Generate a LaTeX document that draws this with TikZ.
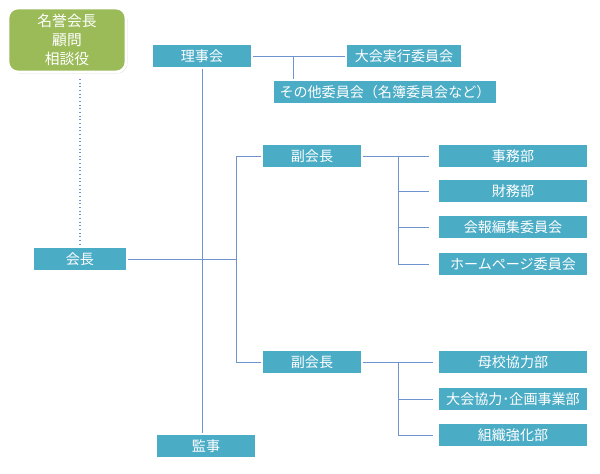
\documentclass[tikz,border=0pt]{standalone}
\usepackage{fontspec}
\setmainfont{Noto Sans CJK JP}
\usetikzlibrary{positioning,shadows}
\definecolor{boxcolor}{RGB}{75,172,198}
\definecolor{greencolor}{RGB}{155,187,89}
\definecolor{linecolor}{RGB}{110,148,205}

\begin{document}
\begin{tikzpicture}[
			x=0.025cm, y=-0.025cm,
			orgbox/.style={
				draw=white,
				line width=1.4pt,
				fill=boxcolor,
				text=white,
				minimum width=2.5cm,
				minimum height=0.6cm,
				inner sep=1pt,
				font=\fontsize{10}{12}\selectfont,
				drop shadow={opacity=0.4,shadow xshift=0.9pt,shadow yshift=-0.9pt}
			},
			widebox/.style={
				orgbox,
				minimum width=3.75cm
			},
			topbox/.style={
				orgbox,
				fill=greencolor,
				line width=2pt,
				rounded corners=7pt,
				align=center,
				minimum width=2.95cm,
				minimum height=1.6cm,
				font=\fontsize{10.5}{13.5}\selectfont
			},
			orgline/.style={
				draw=linecolor,
				line width=0.6pt
			}
		]
			\useasboundingbox (0,0) rectangle (600,474);
			
			\node[topbox] (meiyo) at (67,40) {名誉会長\\顧問\\相談役};
			
			\node[orgbox] (rijikai) at (202,56) {理事会};
			\node[orgbox,minimum width=2.9cm] (taikai) at (404,56) {大会実行委員会};
			\node[orgbox,minimum width=5.6cm] (sonota) at (385,92) {その他委員会（名簿委員会など）};
			
			\node[orgbox,minimum width=2.33cm] (kaicho) at (80,259) {会長};
			\node[orgbox] (kanji) at (206,446) {監事};
			
			\node[orgbox] (fuku1) at (312,156) {副会長};
			\node[orgbox] (fuku2) at (312,362) {副会長};
			
			\node[widebox] (jimu) at (513,156) {事務部};
			\node[widebox] (zaimu) at (513,191) {財務部};
			\node[widebox] (kaiho) at (513,227) {会報編集委員会};
			\node[widebox] (home) at (513,264) {ホームページ委員会};
			
			\node[widebox] (bokou) at (513,362) {母校協力部};
			\node[widebox] (kikaku) at (513,399) {大会協力･企画事業部};
			\node[widebox] (soshiki) at (513,435) {組織強化部};
			
			\coordinate (rbus) at (293,56);
			\coordinate (kbus) at (236,259);
			\coordinate (jbus1) at (398,156);
			\coordinate (jbus2) at (398,362);
			
			\draw[orgline] (rijikai.east) -- (taikai.west);
			\draw[orgline] (rbus) -- (rbus |- sonota.north);
			\draw[orgline] (rijikai.south) -- (rijikai.south |- kanji.north);
			\draw[orgline,dotted,line width=0.8pt] ([yshift=-4pt]kaicho.north |- meiyo.south) -- (kaicho.north);
			
			\draw[orgline] (kaicho.east) -- (kbus);
			\draw[orgline] (kbus |- fuku1) -- (kbus |- fuku2);
			\draw[orgline] (kbus |- fuku1) -- (fuku1.west);
			\draw[orgline] (kbus |- fuku2) -- (fuku2.west);
			
			\draw[orgline,shorten >=6pt] (fuku1.east) -- (jimu.west);
			\draw[orgline] (jbus1) -- (jbus1 |- home);
			\draw[orgline,shorten >=6pt] (jbus1 |- zaimu) -- (zaimu.west);
			\draw[orgline,shorten >=6pt] (jbus1 |- kaiho) -- (kaiho.west);
			\draw[orgline,shorten >=6pt] (jbus1 |- home) -- (home.west);
			
			\draw[orgline,shorten >=3pt] (fuku2.east) -- (bokou.west);
			\draw[orgline] (jbus2) -- (jbus2 |- soshiki);
			\draw[orgline,shorten >=3pt] (jbus2 |- kikaku) -- (kikaku.west);
			\draw[orgline,shorten >=3pt] (jbus2 |- soshiki) -- (soshiki.west);
			
		\end{tikzpicture}
\end{document}
